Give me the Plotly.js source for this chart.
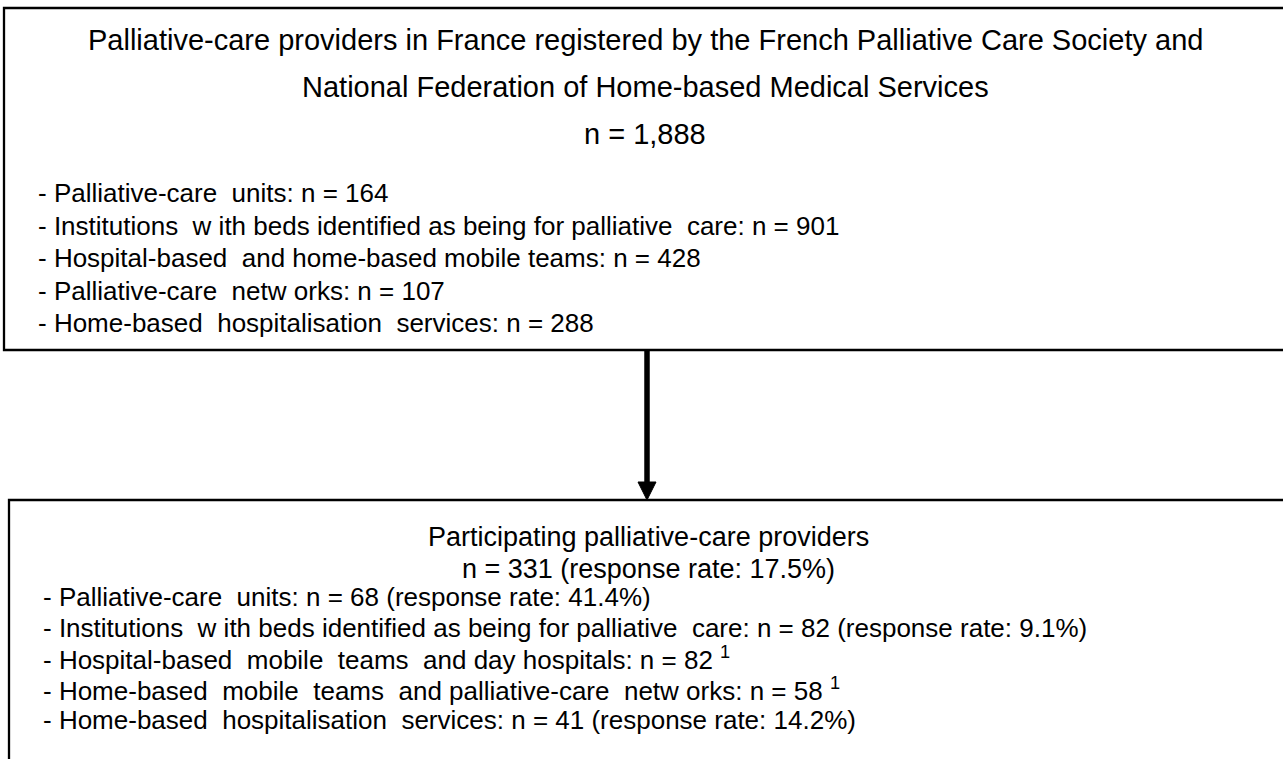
<!DOCTYPE html>
<html>
<head>
<meta charset="utf-8">
<script src="https://cdn.plot.ly/plotly-3.0.1.min.js"></script>
<style>html,body{margin:0;padding:0;background:#fff;}#chart{width:1283px;height:759px;}</style>
</head>
<body>
<div id="chart"></div>
<script>
// ---- content ----
var topTitleLines = [
  "Palliative-care providers in France registered by the French Palliative Care Society and",
  "National Federation of Home-based Medical Services",
  "n = 1,888"
];
var topItems = [
  "- Palliative-care\u00a0 units: n = 164",
  "- Institutions\u00a0 w ith beds identified as being for palliative\u00a0 care: n = 901",
  "- Hospital-based\u00a0 and home-based mobile teams: n = 428",
  "- Palliative-care\u00a0 netw orks: n = 107",
  "- Home-based\u00a0 hospitalisation\u00a0 services: n = 288"
];
var bottomTitleLines = [
  "Participating palliative-care providers",
  "n = 331 (response rate: 17.5%)"
];
var bottomItems = [
  "- Palliative-care\u00a0 units: n = 68 (response rate: 41.4%)",
  "- Institutions\u00a0 w ith beds identified as being for palliative\u00a0 care: n = 82 (response rate: 9.1%)",
  "- Hospital-based\u00a0 mobile\u00a0 teams\u00a0 and day hospitals: n = 82 <sup>1</sup>",
  "- Home-based\u00a0 mobile\u00a0 teams\u00a0 and palliative-care\u00a0 netw orks: n = 58 <sup>1</sup>",
  "- Home-based\u00a0 hospitalisation\u00a0 services: n = 41 (response rate: 14.2%)"
];

// ---- layout (pixel coordinate frame) ----
var W = 1283, H = 759;
var FONT = "Liberation Sans, Arial, sans-serif";
var annotations = [];
var titleY = [40, 87, 134];
topTitleLines.forEach(function (t, i) {
  annotations.push({x: 645, y: titleY[i], text: t, showarrow: false, xanchor: "center", yanchor: "middle",
    font: {family: FONT, size: 29, color: "#000"}});
});
topItems.forEach(function (t, i) {
  annotations.push({x: 36, y: 193 + i * 32.5, text: t, showarrow: false, xanchor: "left", yanchor: "middle",
    font: {family: FONT, size: 26, color: "#000"}});
});
var bTitleY = [537, 569];
bottomTitleLines.forEach(function (t, i) {
  annotations.push({x: 648, y: bTitleY[i], text: t, showarrow: false, xanchor: "center", yanchor: "middle",
    font: {family: FONT, size: 27, color: "#000"}});
});
bottomItems.forEach(function (t, i) {
  annotations.push({x: 41, y: 597 + i * 30.7, text: t, showarrow: false, xanchor: "left", yanchor: "middle",
    font: {family: FONT, size: 26, color: "#000"}});
});

var shapes = [
  {type: "rect", xref: "x", yref: "y", x0: 4, y0: 8, x1: 1300, y1: 350, line: {color: "#000", width: 2.3}},
  {type: "rect", xref: "x", yref: "y", x0: 9, y0: 500, x1: 1300, y1: 800, line: {color: "#000", width: 2.3}},
  {type: "line", xref: "x", yref: "y", x0: 647, y0: 350, x1: 647, y1: 486, line: {color: "#000", width: 5.5}},
  {type: "path", xref: "x", yref: "y", path: "M 638 482 L 656 482 L 647 500 Z", fillcolor: "#000", line: {color: "#000", width: 1}}
];

var layout = {
  width: W, height: H,
  margin: {l: 0, r: 0, t: 0, b: 0, pad: 0},
  paper_bgcolor: "#fff", plot_bgcolor: "#fff",
  xaxis: {range: [0, W], visible: false, fixedrange: true},
  yaxis: {range: [H, 0], visible: false, fixedrange: true},
  showlegend: false,
  annotations: annotations,
  shapes: shapes
};
Plotly.newPlot("chart", [{x: [], y: [], type: "scatter", mode: "markers", hoverinfo: "skip"}], layout, {displayModeBar: false, staticPlot: true});
</script>
</body>
</html>
